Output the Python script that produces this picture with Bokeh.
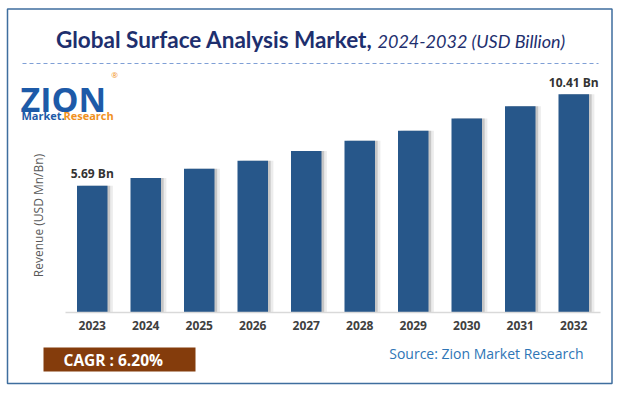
import math
from bokeh.plotting import figure
from bokeh.models import ColumnDataSource, LabelSet, Range1d, FixedTicker
from bokeh.transform import dodge
from bokeh.core.properties import value
from bokeh.embed import file_html
from bokeh.resources import INLINE

# ---- data ----
years = [2023, 2024, 2025, 2026, 2027, 2028, 2029, 2030, 2031, 2032]
revenue = [5.69, 6.10, 6.57, 6.98, 7.49, 8.01, 8.52, 9.16, 9.79, 10.41]
label_years = [2023, 2032]
label_values = [5.69, 10.41]
label_texts = ["5.69 Bn", "10.41 Bn"]
title_main = "Global Surface Analysis Market,"
title_sub = "2024-2032 (USD Billion)"
y_axis_label = "Revenue (USD Mn/Bn)"
cagr_text = "CAGR :  6.20%"
source_text = "Source: Zion Market Research"
y_start = -0.83
y_end = 12.40

W, H = 616, 390
FL, FR, FT, FB = 65, 600, 55, 312  # frame edges in page pixels

p = figure(width=W, height=H,
           x_range=Range1d(years[0] - 0.5, years[-1] + 0.5), y_range=Range1d(y_start, y_end),
           output_backend="svg", toolbar_location=None,
           min_border_left=FL, min_border_right=W - FR, min_border_top=FT, min_border_bottom=H - FB)
# pixel-space ranges for page decorations (title, logo, notes)
p.extra_x_ranges = {"px": Range1d(FL, FR)}
p.extra_y_ranges = {"px": Range1d(FB, FT)}
p.outline_line_color = None
p.xgrid.grid_line_color = None
p.ygrid.grid_line_color = None
p.yaxis.visible = False
p.background_fill_color = "white"
p.border_fill_color = "white"

# x axis
xa = p.xaxis[0]
xa.ticker = FixedTicker(ticks=years)
xa.axis_line_color = "#d9d9d9"
xa.axis_line_width = 1.5
xa.major_tick_line_color = None
xa.minor_tick_line_color = None
xa.major_tick_out = 0
xa.major_label_standoff = 8
xa.major_label_text_font = "Open Sans"
xa.major_label_text_font_size = "12px"
xa.major_label_text_font_style = "bold"
xa.major_label_text_color = "#404040"

src = ColumnDataSource(dict(year=years, value=revenue))
p.vbar(x=dodge("year", 0.10), top="value", bottom=y_start, width=0.57,
       source=src, fill_color="#808080", fill_alpha=0.15, line_color=None)
p.vbar(x=dodge("year", 0.05), top="value", bottom=y_start, width=0.57,
       source=src, fill_color="#808080", fill_alpha=0.35, line_color=None)
p.vbar(x="year", top="value", bottom=y_start, width=0.57, source=src,
       fill_color="#27578a", line_color=None)

lab_src = ColumnDataSource(dict(year=label_years, value=label_values, text=label_texts))
p.add_layout(LabelSet(x="year", y="value", text="text", source=lab_src,
                      text_align="center", text_baseline="middle", y_offset=12,
                      text_font=value("Open Sans"), text_font_style="bold",
                      text_font_size="12px", text_color="#333333"))

PX = dict(x_range_name="px", y_range_name="px", level="overlay")

def txt(text, x, y, font="Open Sans", size="12px", style="normal", color="#000000",
        align="left", baseline="middle", angle=0.0):
    p.text(x=[x], y=[y], text=[text], text_font=value(font), text_font_size=size,
           text_font_style=style, text_color=color, text_align=align,
           text_baseline=baseline, angle=angle, **PX)

# outer border
p.quad(left=[7], right=[611.5], top=[8.5], bottom=[383], fill_alpha=0,
       line_color="#3f6e9e", line_width=1.5, **PX)
# dashed separator (middle vertex keeps it inside the visible range)
p.line(x=[22, 66, 598], y=[63, 63, 63], line_color="#7f9fd6", line_width=1.2,
       line_dash="4 3", **PX)

# title
txt(title_main, 372, 39, font="Lato", size="22.5px", style="bold", color="#1e2f6e", align="right")
txt(title_sub, 377, 40, font="Lato", size="18px", style="italic", color="#1e2f6e")

# logo
txt("ZION", 20, 98, size="34px", style="bold", color="#1d5aa8", baseline="alphabetic")
txt("®", 114, 74, size="8px", color="#f0911e", align="center")
txt("Market.", 21, 115, size="11px", style="bold", color="#1d5aa8", baseline="alphabetic")
txt("Research", 63, 115, size="11px", style="bold", color="#f0911e", baseline="alphabetic")

# y axis title
txt(y_axis_label, 38, 215, size="12px", color="#595959", align="center", angle=math.pi / 2)

# CAGR box
p.quad(left=[43], right=[195], top=[347], bottom=[371], fill_color="#843c0c",
       line_color=None, **PX)
txt(cagr_text, 63, 359, size="15.5px", style="bold", color="white")

# source
txt(source_text, 583, 353, size="14px", color="#2e75b6", align="right")

open("out.html", "w").write(file_html(p, INLINE))
